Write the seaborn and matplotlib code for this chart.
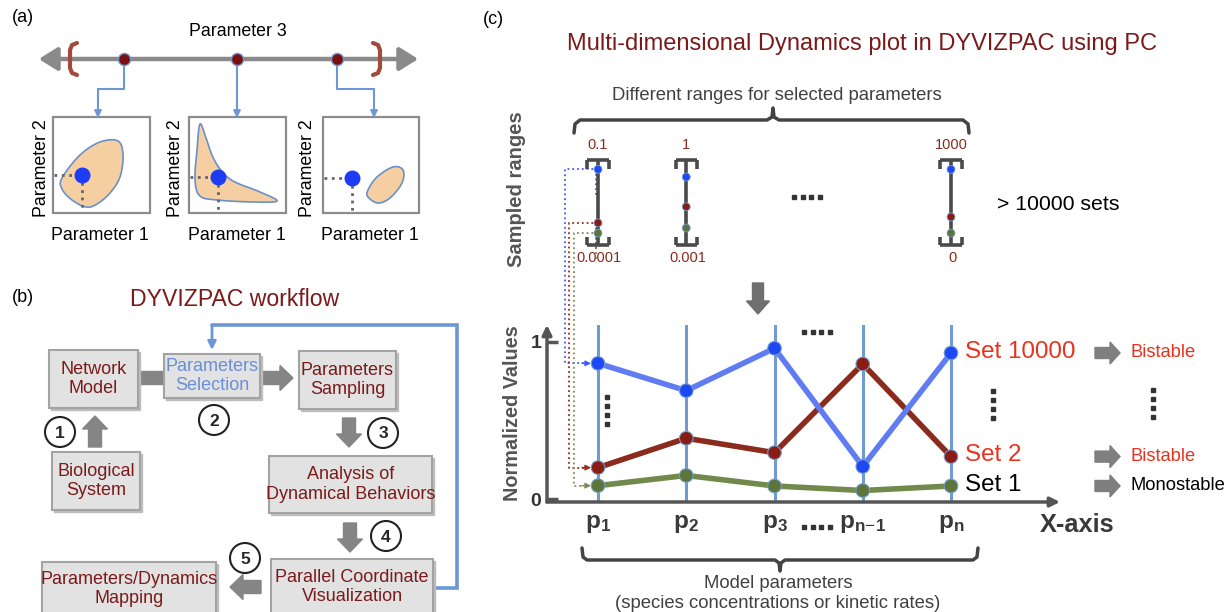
import numpy as np
import pandas as pd
import matplotlib
matplotlib.use("Agg")
import matplotlib.pyplot as plt
import seaborn as sns
from matplotlib.patches import Rectangle, FancyArrow, FancyArrowPatch, Circle, Polygon

# ---------------- data ----------------
params = ["p1", "p2", "p3", "pn-1", "pn"]
param_labels = [r"$\mathbf{p}_\mathbf{1}$", r"$\mathbf{p}_\mathbf{2}$", r"$\mathbf{p}_\mathbf{3}$",
                r"$\mathbf{p}_{\mathbf{n}\!-\!\mathbf{1}}$", r"$\mathbf{p}_\mathbf{n}$"]
set_names = ["Set 10000", "Set 2", "Set 1"]
set10000 = [0.864, 0.69, 0.96, 0.207, 0.93]
set2 = [0.20, 0.387, 0.295, 0.86, 0.27]
set1 = [0.085, 0.15, 0.083, 0.054, 0.083]
outcomes = ["Bistable", "Bistable", "Monostable"]

range_params = ["p1", "p2", "pn"]
range_top = ["0.1", "1", "1000"]
range_bottom = ["0.0001", "0.001", "0"]
sampled10000 = [0.89, 0.80, 0.89]
sampled2 = [0.26, 0.45, 0.33]
sampled1 = [0.14, 0.20, 0.14]

# ---------------- style ----------------
sns.set_style("white")
plt.rcParams["font.family"] = ["Liberation Sans", "DejaVu Sans"]
plt.rcParams["mathtext.fontset"] = "custom"
plt.rcParams["mathtext.rm"] = "Liberation Sans"
plt.rcParams["mathtext.bf"] = "Liberation Sans:bold"
plt.rcParams["mathtext.it"] = "Liberation Sans:italic"

W, H = 1225, 612
fig = plt.figure(figsize=(W / 100, H / 100), dpi=100)
fig.patch.set_facecolor("white")
ov = fig.add_axes([0, 0, 1, 1])
ov.set_xlim(0, W)
ov.set_ylim(H, 0)
ov.axis("off")
ov.set_zorder(0)

DARKRED = "#7b1a1a"
GRAYTXT = "#404040"
BLUE_LINE = "#6d96d6"
ARROW_GRAY = "#858585"


def txt(x, y, s, size, color="black", ha="center", va="center", weight="normal", rot=0, **kw):
    ov.text(x, y, s, fontsize=size, color=color, ha=ha, va=va, fontweight=weight,
            rotation=rot, **kw)


def smooth_closed(pts, n=24):
    pts = np.asarray(pts, float)
    N = len(pts)
    out = []
    t = np.linspace(0, 1, n, endpoint=False)[:, None]
    for i in range(N):
        p0, p1, p2, p3 = pts[(i - 1) % N], pts[i], pts[(i + 1) % N], pts[(i + 2) % N]
        out.append(0.5 * (2 * p1 + (-p0 + p2) * t + (2 * p0 - 5 * p1 + 4 * p2 - p3) * t ** 2
                          + (-p0 + 3 * p1 - 3 * p2 + p3) * t ** 3))
    return np.vstack(out)


def arrow_line(x0, y0, x1, y1, color, lw=1.5, ms=10):
    ov.annotate("", xy=(x1, y1), xytext=(x0, y0),
                arrowprops=dict(arrowstyle="-|>", color=color, lw=lw, shrinkA=0, shrinkB=0,
                                mutation_scale=ms))


# ================= panel (a) =================
txt(12, 18, "(a)", 13, ha="left")
txt(238, 32, "Parameter 3", 12.8)
ov.add_patch(FancyArrowPatch((36, 59), (421, 59), arrowstyle="<|-|>,head_length=0.8,head_width=0.5",
                             mutation_scale=14, color="#8a8a8a", lw=3.2))
for xs in ([77, 72, 70, 70, 72, 77], [373, 378, 380, 380, 378, 373]):
    ov.plot(xs, [43, 45, 50, 68, 73, 75], color="#a14b3c", lw=3, solid_capstyle="round")

# connectors from axis to boxes
ov.plot([124, 124, 98], [59, 89, 89], color=BLUE_LINE, lw=1.5)
arrow_line(98, 89, 98, 118, BLUE_LINE)
arrow_line(237, 59, 237, 118, BLUE_LINE)
ov.plot([337, 337, 374], [59, 89, 89], color=BLUE_LINE, lw=1.5)
arrow_line(374, 89, 374, 118, BLUE_LINE)
ov.scatter([124, 237, 337], [59, 59, 59], s=75, c="#7a0f0f", edgecolors=BLUE_LINE, linewidths=1, zorder=5)

boxes_a = [(53, 117, 150, 213), (189, 117, 286, 213), (323, 117, 419, 213)]
blob1 = [(62, 178), (80, 155), (100, 142), (118, 141), (123, 155), (120, 177), (110, 193),
         (97, 204), (86, 207), (72, 200), (62, 189)]
blob2 = [(200, 124), (197, 150), (195, 180), (200, 196), (217, 200), (253, 202), (277, 201),
         (260, 192), (233, 181), (220, 169), (212, 155), (206, 138)]
blob3 = [(368, 190), (377, 177), (393, 167), (403, 170), (402, 183), (390, 198), (378, 203), (368, 197)]
dots_a = [(82, 175), (218, 177), (352, 178)]
for (l, t, r, b), blob, (dx, dy) in zip(boxes_a, [blob1, blob2, blob3], dots_a):
    ov.add_patch(Rectangle((l, t), r - l, b - t, fill=False, ec="#8c8c8c", lw=1.6, zorder=2))
    ov.add_patch(Polygon(smooth_closed(blob), closed=True, fc="#f5cfa2", ec="#6b8fc8", lw=1.2, zorder=3))
    ov.plot([l + 1, dx], [dy, dy], ls=":", color="#666", lw=2, zorder=4)
    ov.plot([dx, dx], [dy, b - 1], ls=":", color="#666", lw=2, zorder=4)
    ov.scatter([dx], [dy], s=110, c="#1f3cf5", zorder=5)
for x in (42, 175, 308):
    txt(x, 168, "Parameter 2", 12.8, rot=90)
for x in (100, 237, 370):
    txt(x, 235, "Parameter 1", 12.8)

# ================= panel (b) =================
txt(12, 297, "(b)", 13, ha="left")
txt(235, 300, "DYVIZPAC workflow", 16.6, color=DARKRED)

ov.plot([433, 457, 457, 212], [588, 588, 325, 325], color=BLUE_LINE, lw=2.6, solid_joinstyle="miter")
arrow_line(212, 325, 212, 350, BLUE_LINE, lw=2, ms=12)

# body of arrow Network -> Selection
ov.add_patch(Rectangle((136, 371), 32, 13, color=ARROW_GRAY, zorder=1))

boxes_b = [
    ("Network\nModel", 49, 350, 138, 408, None, DARKRED),
    ("Parameters\nSelection", 164, 354, 260, 398, None, "#6a8fd4"),
    ("Parameters\nSampling", 299, 351, 396, 409, None, DARKRED),
    ("Biological\nSystem", 52, 452, 140, 510, None, DARKRED),
    ("Analysis of\nDynamical Behaviors", 269, 456, 432, 513, None, DARKRED),
    ("Parallel Coordinate\nVisualization", 271, 559, 433, 630, 587, DARKRED),
    ("Parameters/Dynamics\nMapping", 42, 562, 216, 630, 589, DARKRED),
]
for label, l, t, r, b, ty, col in boxes_b:
    ov.add_patch(Rectangle((l + 2, t + 2), r - l, b - t, color="#bdbdbd", zorder=2))
    ov.add_patch(Rectangle((l, t), r - l, b - t, fc="#e2e2e2", ec="#a3a3a3", lw=1.5, zorder=3))
    yc = (t + b) / 2 if ty is None else ty
    ov.text((l + r) / 2, yc, label, fontsize=13, color=col, ha="center", va="center",
            linespacing=1.17, zorder=4)

for x, y, dx, dy in [(258, 378, 35, 0), (95, 447, 0, -31), (349, 418, 0, 29),
                     (350, 523, 0, 29), (261, 587, -31, 0)]:
    ov.add_patch(FancyArrow(x, y, dx, dy, width=13, head_width=25, head_length=13,
                            length_includes_head=True, color=ARROW_GRAY, zorder=1))

for x, y, n in [(60, 432, "1"), (214, 420, "2"), (383, 433, "3"), (386, 536, "4"), (245, 558, "5")]:
    ov.add_patch(Circle((x, y), 15, fc="white", ec="#222", lw=1.5, zorder=5))
    ov.text(x, y + 1, n, fontsize=12.5, fontweight="bold", ha="center", va="center", zorder=6)

# ================= panel (c) =================
txt(483, 20, "(c)", 13, ha="left")
txt(862, 44, "Multi-dimensional Dynamics plot in DYVIZPAC using PC", 17, color=DARKRED)
txt(777, 95, "Different ranges for selected parameters", 13.3, color=GRAYTXT)
ov.plot([574, 575, 580, 767, 772, 773, 774, 779, 963, 968, 969],
        [133, 124, 120, 120, 117, 108, 117, 120, 120, 124, 133], color="#444", lw=2.5)
txt(516, 189, "Sampled ranges", 14.5, color="#555", weight="bold", rot=90)
txt(513, 413, "Normalized Values", 14.3, color="#555", weight="bold", rot=90)
txt(997, 204, "> 10000 sets", 15.3, ha="left")
ov.add_patch(FancyArrow(758, 283, 0, 31, width=11, head_width=23, head_length=13,
                        length_includes_head=True, color="#6f6f6f"))

# horizontal "····" and vertical "⋮" decorations
for x0, y0 in [(794, 197), (804, 332), (804, 527)]:
    ov.plot(x0 + np.arange(4) * 8.5, [y0] * 4, ls="none", marker="s", ms=2.4, color="#333")
for x0, y0 in [(607, 397), (993, 391), (1153, 390)]:
    ov.plot([x0] * 4, y0 + np.arange(4) * 9, ls="none", marker="s", ms=2.3, color="#333")

X0, XU = 598, 88.25
Y0, YU = 499, 157.0
xlim = ((547 - X0) / XU, (1060 - X0) / XU)


def px2fig(l, t, r, b):
    return [l / W, 1 - b / H, (r - l) / W, (b - t) / H]


# ---- parallel coordinates axes ----
pc = fig.add_axes(px2fig(547, 325, 1060, 502))
pc.set_zorder(2)
pc.patch.set_alpha(0)
pc.set_xlim(*xlim)
pc.set_ylim(-(502 - Y0) / YU, (Y0 - 325) / YU)
for s in pc.spines.values():
    s.set_visible(False)
pos = np.arange(len(params))
for x in pos:
    pc.axvline(x, color="#6f9bd1", lw=2.2, zorder=1)

df = pd.DataFrame({
    "pos": np.tile(pos, 3),
    "value": set10000 + set2 + set1,
    "set": np.repeat(set_names, len(params)),
})
line_pal = {"Set 10000": "#5f7cf3", "Set 2": "#8b2b1e", "Set 1": "#71894b"}
dot_pal = {"Set 10000": "#1e47f5", "Set 2": "#8a1c12", "Set 1": "#5d7538"}
order = ["Set 1", "Set 2", "Set 10000"]
sns.lineplot(data=df, x="pos", y="value", hue="set", hue_order=order, palette=line_pal,
             lw=4, sort=False, estimator=None, legend=False, ax=pc, zorder=3)
sns.scatterplot(data=df, x="pos", y="value", hue="set", hue_order=order, palette=dot_pal,
                s=95, edgecolor="#6f9bd1", linewidth=0.8, legend=False, ax=pc, zorder=4)
pc.set_xlabel("")
pc.set_ylabel("")
pc.set_yticks([0, 1])
pc.set_yticklabels(["0", "1"], fontsize=14, fontweight="bold", color="#333")
pc.tick_params(axis="y", direction="in", length=8, width=2.5, color="#555", pad=4, left=True)
pc.set_xticks(pos)
pc.set_xticklabels(param_labels, fontsize=17.5, color="#3a3a3a")
pc.tick_params(axis="x", length=0, pad=8)
for xy, xyt in [((0, 1), (0, 0)), ((1, 0), (0, 0))]:
    pc.annotate("", xy=xy, xytext=xyt, xycoords="axes fraction",
                arrowprops=dict(arrowstyle="-|>", color="#555", lw=2.5, shrinkA=0, shrinkB=0,
                                mutation_scale=14), annotation_clip=False)

set_colors = ["#e8321e", "#e8321e", "black"]
out_colors = ["#e8321e", "#e8321e", "black"]
last_vals = [set10000[-1], set2[-1], set1[-1]]
for name, v, c in zip(set_names, last_vals, set_colors):
    pc.annotate(name, (pos[-1], v), xytext=(10, 1), textcoords="offset points",
                fontsize=17.4, color=c, ha="left", va="center", annotation_clip=False)


def to_ov(ax, x, y):
    return ov.transData.inverted().transform(ax.transData.transform((x, y)))


for v, outc, c in zip(last_vals, outcomes, out_colors):
    yy = to_ov(pc, pos[-1], v)[1]
    ov.add_patch(FancyArrow(1095, yy, 25, 0, width=11, head_width=22, head_length=10,
                            length_includes_head=True, color="#7f7f7f"))
    txt(1130, yy, outc, 13.2, color=c, ha="left")

txt(1040, 525, "X-axis", 18.3, color="#3a3a3a", weight="bold", ha="left")
ov.plot([582, 583, 587, 775, 779, 780, 781, 785, 973, 977, 978],
        [548, 557, 560, 560, 563, 571, 563, 560, 560, 557, 548], color="#444", lw=2.5)
txt(778, 584, "Model parameters", 13.3, color=GRAYTXT)
txt(778, 603, "(species concentrations or kinetic rates)", 13.3, color=GRAYTXT)

# ---- sampled ranges axes ----
rg = fig.add_axes(px2fig(547, 160, 1060, 245))
rg.set_zorder(3)
rg.patch.set_alpha(0)
rg.set_xlim(*xlim)
rg.set_ylim(0, 1)
rg.axis("off")
rx = np.array([params.index(p) for p in range_params], float)
hw = 0.12
rg.vlines(rx, 0, 1, color="#4a4a4a", lw=2.6)
rg.hlines([1] * 3, rx - hw, rx + hw, color="#4a4a4a", lw=2.6, clip_on=False)
rg.hlines([0] * 3, rx - hw, rx + hw, color="#4a4a4a", lw=2.6, clip_on=False)
for sgn in (-1, 1):
    rg.vlines(rx + sgn * hw, 0.9, 1, color="#4a4a4a", lw=2.6, clip_on=False)
    rg.vlines(rx + sgn * hw, 0, 0.1, color="#4a4a4a", lw=2.6, clip_on=False)
dfr = pd.DataFrame({
    "pos": np.tile(rx, 3),
    "value": sampled10000 + sampled2 + sampled1,
    "set": np.repeat(set_names, len(range_params)),
})
sns.scatterplot(data=dfr, x="pos", y="value", hue="set", hue_order=order, palette=dot_pal,
                s=32, edgecolor="#6f9bd1", linewidth=0.6, legend=False, ax=rg, zorder=4, clip_on=False)
for x, tl, bl in zip(rx, range_top, range_bottom):
    rg.annotate(tl, (x, 1), xytext=(0, 6), textcoords="offset points", ha="center", va="bottom",
                fontsize=10.5, color="#8b2a1a", annotation_clip=False)
    rg.annotate(bl, (x, 0), xytext=(1, -4), textcoords="offset points", ha="center", va="top",
                fontsize=10.5, color="#8b2a1a", annotation_clip=False)

# dotted connectors from sampled values to the normalized axis
conn = [(sampled10000, set10000, "#3d5cff", 565), (sampled2, set2, "#9a2a1a", 569),
        (sampled1, set1, "#7d8c55", 574)]
for samp, vals, col, xo in conn:
    a = to_ov(rg, rx[0], samp[0])
    b = to_ov(pc, pos[0], vals[0])
    ov.plot([a[0] - 2, a[0] - 2], [a[1], a[1] + 28], ls=":", color=col, lw=1.3, zorder=3)
    ov.plot([a[0], xo, xo, b[0] - 14], [a[1], a[1], b[1], b[1]], ls=":", color=col, lw=1.3, zorder=3)
    arrow_line(b[0] - 16, b[1], b[0] - 7, b[1], col, lw=1, ms=8)

fig.savefig("out.png", dpi=100, facecolor="white")
